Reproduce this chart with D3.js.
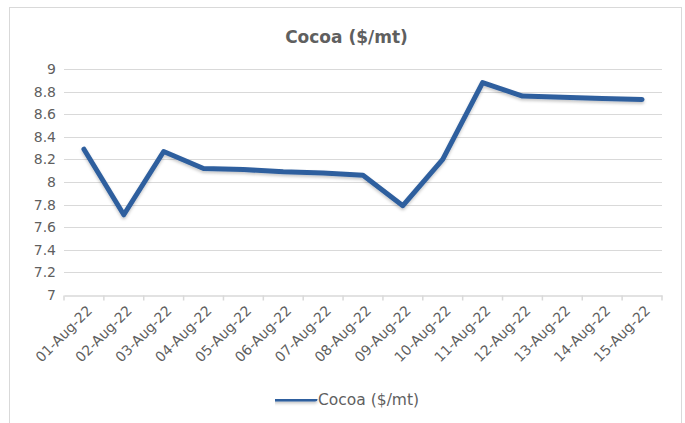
<!DOCTYPE html>
<html>
<head>
<meta charset="utf-8">
<script src="https://cdn.jsdelivr.net/npm/d3@7"></script>
<style>
  body { margin: 0; background: #fff; }
  text { font-family: "DejaVu Sans", "Lato", sans-serif; fill: #5f5f5f; }
</style>
</head>
<body>
<div class="container"></div>
<script>
// data
const dates = ["01-Aug-22", "02-Aug-22", "03-Aug-22", "04-Aug-22", "05-Aug-22",
  "06-Aug-22", "07-Aug-22", "08-Aug-22", "09-Aug-22", "10-Aug-22",
  "11-Aug-22", "12-Aug-22", "13-Aug-22", "14-Aug-22", "15-Aug-22"];
const cocoa = [8.29, 7.71, 8.27, 8.12, 8.11, 8.09, 8.08, 8.06, 7.79, 8.20,
  8.88, 8.76, 8.75, 8.74, 8.73];
const yTicks = [7, 7.2, 7.4, 7.6, 7.8, 8, 8.2, 8.4, 8.6, 8.8, 9];
const seriesName = "Cocoa ($/mt)";

const width = 685, height = 423;
const margin = {top: 69, right: 23, bottom: 128, left: 64};
const lineColor = "#2f5f9e";
const gridColor = "#d9d9d9";

const svg = d3.select('.container')
  .append('svg')
  .attr('width', width)
  .attr('height', height);

// faint shadow under the line, like the Excel original
// (user space units so the flat legend line keeps its filter region)
const defs = svg.append('defs');
const f = defs.append('filter').attr('id', 'shadow')
  .attr('filterUnits', 'userSpaceOnUse')
  .attr('x', 0).attr('y', 0).attr('width', width).attr('height', height);
f.append('feDropShadow').attr('dx', 0).attr('dy', 2).attr('stdDeviation', 1.5)
  .attr('flood-color', '#000').attr('flood-opacity', 0.22);

// chart frame
svg.append('rect')
  .attr('x', 9.5).attr('y', 7.5)
  .attr('width', 672).attr('height', 430)
  .attr('fill', 'none').attr('stroke', gridColor);

const x = d3.scaleBand()
  .domain(dates)
  .range([margin.left, width - margin.right]);

const y = d3.scaleLinear()
  .domain([7, 9])
  .range([height - margin.bottom, margin.top]);

// title
svg.append('text')
  .attr('x', width / 2 + 4).attr('y', 43)
  .attr('text-anchor', 'middle')
  .style('font-size', '17px')
  .style('font-weight', 'bold')
  .text(seriesName);

// gridlines
svg.append('g')
  .selectAll('line')
  .data(yTicks.filter(d => d !== 7))
  .enter()
  .append('line')
  .attr('x1', margin.left).attr('x2', width - margin.right)
  .attr('y1', d => Math.round(y(d)) + 0.5).attr('y2', d => Math.round(y(d)) + 0.5)
  .attr('stroke', gridColor).attr('stroke-width', 1);

// y axis labels
const yAxis = d3.axisLeft(y).tickValues(yTicks).tickSize(0).tickPadding(8)
  .tickFormat(d3.format('~g'));
const gy = svg.append('g')
  .attr('transform', 'translate(' + margin.left + ',0)')
  .call(yAxis);
gy.select('.domain').remove();
gy.selectAll('text').style('font-size', '14px').attr('fill', '#5f5f5f')
  .style('font-family', '"DejaVu Sans", sans-serif');

// x axis, ticks on the band edges
const xAxis = d3.axisBottom(x).tickSize(0).tickFormat('');
const gx = svg.append('g')
  .attr('transform', 'translate(0,' + (Math.round(y(7)) + 0.5) + ')')
  .call(xAxis);
gx.selectAll('.tick').remove();
gx.select('.domain').attr('stroke', gridColor).attr('stroke-width', 1.5);

const edges = dates.map(d => x(d)).concat([x(dates[dates.length - 1]) + x.bandwidth()]);
gx.selectAll('line.edge')
  .data(edges)
  .enter()
  .append('line')
  .attr('class', 'edge')
  .attr('x1', d => d).attr('x2', d => d)
  .attr('y1', 0).attr('y2', 5)
  .attr('stroke', gridColor).attr('stroke-width', 1.5);

gx.selectAll('text.lbl')
  .data(dates)
  .enter()
  .append('text')
  .attr('class', 'lbl')
  .attr('text-anchor', 'end')
  .attr('transform', d => 'translate(' + (x(d) + x.bandwidth() / 2 + 9) + ',16) rotate(-45)')
  .style('font-size', '14px')
  .text(d => d);

// the series line
const line = d3.line()
  .x((d, i) => x(dates[i]) + x.bandwidth() / 2)
  .y(d => y(d));

svg.append('path')
  .datum(cocoa)
  .attr('d', line)
  .attr('fill', 'none')
  .attr('stroke', lineColor)
  .attr('stroke-width', 5)
  .attr('stroke-linejoin', 'round')
  .attr('stroke-linecap', 'round')
  .attr('filter', 'url(#shadow)');

// legend
const lg = svg.append('g').attr('transform', 'translate(275,399)');
lg.append('line')
  .attr('x1', 0).attr('x2', 40).attr('y1', 0).attr('y2', 0)
  .attr('stroke', lineColor).attr('stroke-width', 5)
  .attr('stroke-linecap', 'round')
  .attr('filter', 'url(#shadow)');
lg.append('text')
  .attr('x', 43).attr('y', 6)
  .style('font-size', '15.5px')
  .text(seriesName);
</script>
</body>
</html>
